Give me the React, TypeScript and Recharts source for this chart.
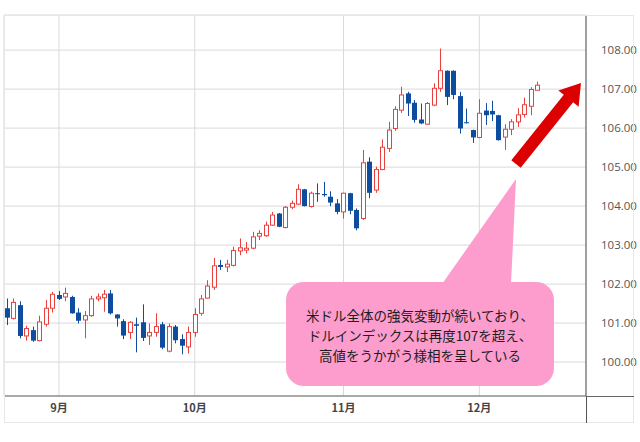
import React from "react";
import { ComposedChart, Bar, XAxis, YAxis, CartesianGrid } from "recharts";

// Daily candles, late Aug .. mid Dec (index = trading day)
const opens = [
  101.38, 101.12, 101.46, 100.67, 100.82, 100.55, 100.97, 101.38, 101.72, 101.67,
  101.67, 101.27, 101.08, 101.19, 101.62, 101.65, 101.76, 101.22, 101.05, 100.76,
  100.97, 101.02, 100.67, 100.76, 100.97, 100.28, 100.91, 100.59, 100.39, 100.76,
  101.25, 101.64, 101.92, 102.49, 102.44, 102.48, 102.85, 102.87, 102.92, 103.23,
  103.24, 103.51, 103.81, 103.45, 103.97, 104.05, 104.43, 103.99, 104.33, 104.31,
  104.24, 104.07, 103.85, 104.33, 103.90, 103.68, 105.14, 104.41, 104.94, 105.48,
  105.99, 106.46, 106.89, 106.65, 106.22, 106.10, 106.59, 107.02, 107.47, 107.47,
  106.82, 106.15, 105.95, 105.76, 106.45, 106.44, 106.33, 105.77, 105.97, 106.16,
  106.35, 106.56, 106.97,
];
const highs = [
  101.63, 101.63, 101.56, 100.93, 100.91, 101.19, 101.59, 101.80, 101.82, 101.91,
  101.70, 101.38, 101.31, 101.70, 101.76, 101.85, 101.85, 101.23, 101.10, 101.05,
  101.14, 101.48, 100.99, 101.25, 101.03, 100.99, 100.95, 100.71, 100.91, 101.38,
  101.72, 102.10, 102.67, 102.62, 102.62, 102.96, 103.17, 103.08, 103.34, 103.38,
  103.60, 103.85, 103.82, 104.00, 104.14, 104.56, 104.44, 104.37, 104.58, 104.62,
  104.38, 104.18, 104.34, 104.34, 103.94, 105.44, 105.25, 105.01, 105.71, 106.16,
  106.56, 107.06, 106.93, 106.72, 106.63, 106.67, 107.15, 108.04, 107.48, 107.48,
  106.93, 106.50, 105.96, 106.74, 106.64, 106.70, 106.34, 106.10, 106.23, 106.51,
  106.78, 107.05, 107.19,
];
const lows = [
  100.95, 101.09, 100.61, 100.55, 100.52, 100.53, 100.91, 101.27, 101.59, 101.56,
  101.24, 100.99, 100.61, 101.16, 101.56, 101.29, 101.22, 100.91, 100.59, 100.59,
  100.25, 100.54, 100.44, 100.65, 100.33, 100.25, 100.48, 100.20, 100.22, 100.65,
  101.19, 101.63, 101.85, 102.36, 102.31, 102.45, 102.74, 102.79, 102.89, 103.13,
  103.21, 103.49, 103.46, 103.43, 103.92, 104.03, 103.99, 103.96, 104.11, 104.24,
  104.00, 103.79, 103.68, 103.79, 103.38, 103.64, 104.20, 104.34, 104.92, 105.39,
  105.93, 106.39, 106.31, 106.14, 106.10, 106.09, 106.56, 106.93, 106.59, 106.74,
  105.86, 106.12, 105.62, 105.74, 106.08, 106.18, 105.68, 105.44, 105.82, 106.03,
  106.27, 106.33, 106.96,
];
const closes = [
  101.14, 101.53, 100.67, 100.86, 100.55, 101.03, 101.38, 101.74, 101.62, 101.76,
  101.25, 101.06, 101.19, 101.62, 101.67, 101.74, 101.25, 101.12, 100.68, 101.02,
  100.93, 100.62, 100.76, 100.91, 100.37, 100.91, 100.56, 100.42, 100.76, 101.22,
  101.62, 101.95, 102.47, 102.44, 102.51, 102.86, 102.93, 102.92, 103.21, 103.30,
  103.51, 103.77, 103.47, 103.97, 104.07, 104.43, 104.00, 104.33, 104.31, 104.28,
  104.09, 103.85, 104.33, 103.88, 103.43, 105.11, 104.34, 104.94, 105.51, 105.95,
  106.48, 106.85, 106.63, 106.21, 106.12, 106.63, 107.02, 107.47, 106.80, 106.85,
  105.99, 106.13, 105.76, 106.38, 106.33, 106.35, 105.69, 105.97, 106.16, 106.34,
  106.60, 106.99, 107.10,
];

const monthTickIndex = [8, 29, 52, 73];
const monthLabels = ["9月", "10月", "11月", "12月"];
const priceTicks = [100, 101, 102, 103, 104, 105, 106, 107, 108];
const calloutLines = [
  "米ドル全体の強気変動が続いており、",
  "ドルインデックスは再度107を超え、",
  "高値をうかがう様相を呈している",
];

const data = opens.map((o, i) => ({
  i,
  open: o,
  high: highs[i],
  low: lows[i],
  close: closes[i],
}));

const UP = "#e8403c";
const DOWN = "#0d4c9e";

function Candle(props: any) {
  const { x, y, width, height, payload } = props;
  if (!payload || payload.high == null) return null;
  const { open, close, high, low } = payload;
  const top = Math.min(y, y + height);
  const bot = Math.max(y, y + height);
  const ppu = high - low > 0 ? (bot - top) / (high - low) : 0;
  const py = (v: number) => top + (high - v) * ppu;
  const cx = Math.round(x + width / 2 - 0.5) + 0.5;
  const up = close >= open;
  const bTop = py(Math.max(open, close));
  const bBot = py(Math.min(open, close));
  const bh = Math.max(bBot - bTop, 1);
  if (up) {
    return (
      <g>
        <line x1={cx} x2={cx} y1={top} y2={bTop} stroke={UP} strokeWidth={1} />
        <line x1={cx} x2={cx} y1={bTop + bh} y2={bot} stroke={UP} strokeWidth={1} />
        <rect x={cx - 2} y={bTop} width={4} height={bh} fill="#fff" stroke={UP} strokeWidth={1} />
      </g>
    );
  }
  return (
    <g>
      <line x1={cx} x2={cx} y1={top} y2={bot} stroke={DOWN} strokeWidth={1} />
      <rect x={cx - 2.5} y={bTop} width={5} height={bh} fill={DOWN} />
    </g>
  );
}

function Overlay() {
  // arrow geometry
  const T = [516, 164];
  const P = [581, 83];
  const dx = P[0] - T[0];
  const dy = P[1] - T[1];
  const len = Math.hypot(dx, dy);
  const u = [dx / len, dy / len];
  const n = [-u[1], u[0]];
  const hw = 6, hl = 20, hh = 13;
  const B = [P[0] - hl * u[0], P[1] - hl * u[1]];
  const pt = (c: number[], k: number) => `${c[0] + k * n[0]},${c[1] + k * n[1]}`;
  const arrow = [pt(T, -hw), pt(B, -hw), pt(B, -hh), `${P[0]},${P[1]}`, pt(B, hh), pt(B, hw), pt(T, hw)].join(" ");
  return (
    <svg width={640} height={442} style={{ position: "absolute", left: 0, top: 0, pointerEvents: "none" }}>
      <rect x={4.5} y={15.5} width={629} height={407} fill="none" stroke="#e6e6e6" />
      <line x1={586} x2={634} y1={396.5} y2={396.5} stroke="#666" />
      <line x1={586.5} x2={586.5} y1={396} y2={423} stroke="#555" />
      <polygon points="442,284 511,284 516,179" fill="#fc9dcd" />
      <rect x={286} y={282} width={268} height={104} rx={18} ry={18} fill="#fc9dcd" />
      {calloutLines.map((t, k) => (
        <text
          key={k}
          x={420}
          y={315 + k * 20}
          textAnchor="middle"
          dominantBaseline="central"
          fontFamily="'Noto Sans CJK JP', sans-serif"
          fontSize={13.5}
          fill="#1e1e1e"
        >
          {t}
        </text>
      ))}
      <polygon points={arrow} fill="#dc0000" />
    </svg>
  );
}

export default function App() {
  return (
    <div style={{ position: "absolute", left: 0, top: 0, width: 640, height: 442, background: "#fff" }}>
      <ComposedChart width={640} height={442} data={data} margin={{ top: 15, right: 6, bottom: 19, left: 4 }}>
        <CartesianGrid stroke="#d9d9d9" />
        <XAxis
          type="number"
          dataKey="i"
          domain={[-0.5, 89.5]}
          allowDataOverflow
          ticks={monthTickIndex}
          tickFormatter={(v: number) => monthLabels[monthTickIndex.indexOf(v)] ?? ""}
          height={27}
          tickLine={false}
          axisLine={{ stroke: "#666" }}
          tick={{ fontSize: 11, fontWeight: 700, fill: "#444", fontFamily: "'Noto Sans CJK JP', sans-serif" }}
        />
        <YAxis
          orientation="right"
          type="number"
          domain={[99.13, 108.9]}
          allowDataOverflow
          ticks={priceTicks}
          tickFormatter={(v: number) => v.toFixed(2)}
          width={48}
          tickLine={false}
          tickMargin={9}
          axisLine={{ stroke: "#555" }}
          tick={{ fontSize: 11.5, fill: "#555", fontFamily: "'Open Sans', sans-serif" }}
        />
        <Bar
          dataKey={(d: any) => [d.low, d.high]}
          barSize={5}
          shape={(p: any) => <Candle {...p} />}
          isAnimationActive={false}
        />
      </ComposedChart>
      <Overlay />
    </div>
  );
}
